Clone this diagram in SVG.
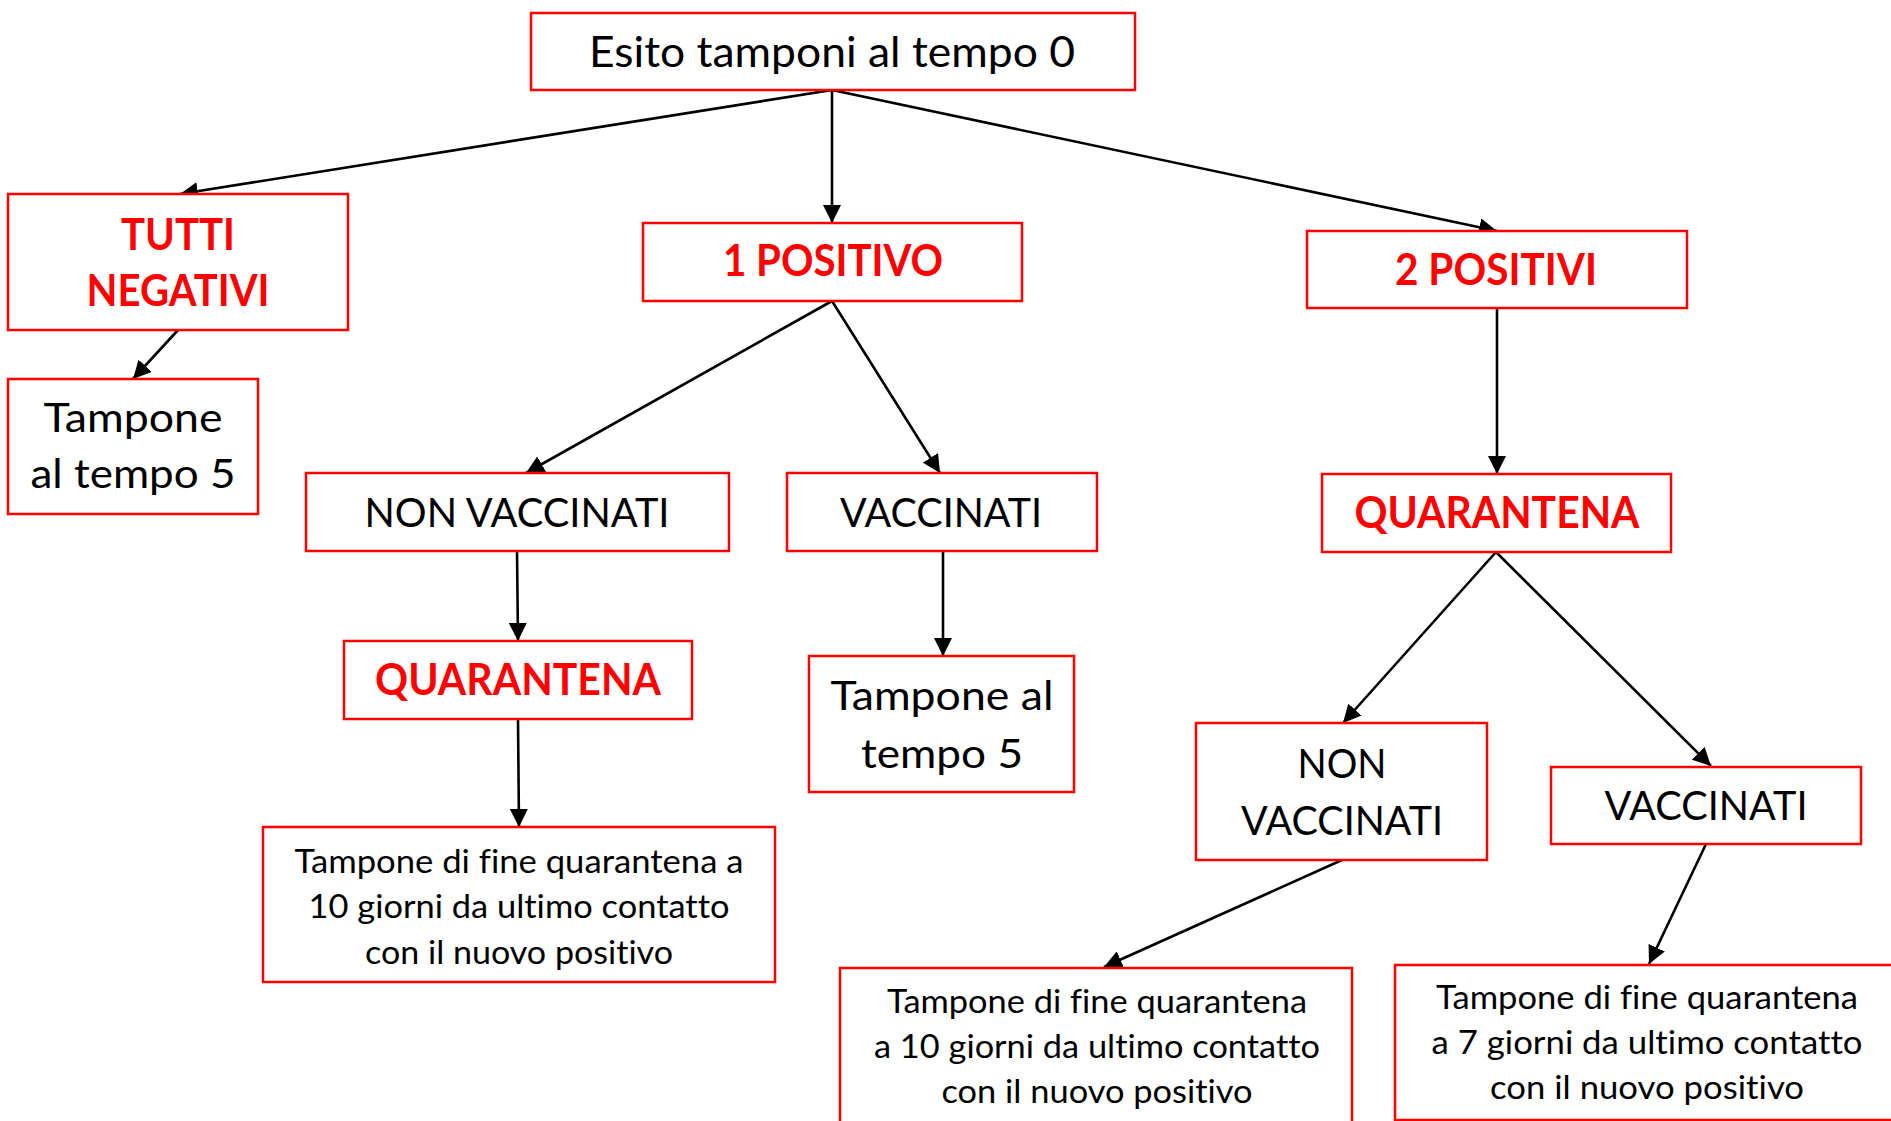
<svg xmlns="http://www.w3.org/2000/svg" width="1891" height="1121" viewBox="0 0 1891 1121">
<defs>
<marker id="ah" markerUnits="userSpaceOnUse" markerWidth="18" markerHeight="18" viewBox="0 0 16 16" refX="16" refY="8" orient="auto">
<path d="M0,0 L16,8 L0,16 Z" fill="#000"/>
</marker>
<style>
.box{fill:#fff;stroke:#ff0000;stroke-width:2.5}
.t{font-family:Lato,"Open Sans",sans-serif;fill:#000;text-anchor:middle;font-variant-ligatures:none}
.b{font-family:Lato,"Open Sans",sans-serif;font-weight:bold;fill:#ff0000;text-anchor:middle;font-variant-ligatures:none}
.c{fill:none;stroke:#000;stroke-width:2.6;marker-end:url(#ah)}
</style>
</defs>
<rect width="1891" height="1121" fill="#fff"/>
<g id="connectors">
<line class="c" x1="832" y1="90" x2="180" y2="194"/>
<line class="c" x1="832" y1="90" x2="832" y2="223"/>
<line class="c" x1="832" y1="90" x2="1497" y2="231"/>
<line class="c" x1="178" y1="330" x2="133" y2="379"/>
<line class="c" x1="832" y1="301" x2="526" y2="473"/>
<line class="c" x1="832" y1="301" x2="940" y2="473"/>
<line class="c" x1="517" y1="551" x2="518" y2="641"/>
<line class="c" x1="943" y1="551" x2="943" y2="656"/>
<line class="c" x1="1497" y1="308" x2="1497" y2="474"/>
<line class="c" x1="1496" y1="552" x2="1343" y2="723"/>
<line class="c" x1="1496" y1="552" x2="1711" y2="766"/>
<line class="c" x1="1342" y1="860" x2="1104" y2="967"/>
<line class="c" x1="1706" y1="844" x2="1649" y2="964"/>
<line class="c" x1="518" y1="719" x2="519" y2="827"/>
</g>
<g id="n-root">
<rect class="box" x="531" y="13" width="604" height="77"/>
<text class="t" x="832" y="67" font-size="43" textLength="486" lengthAdjust="spacingAndGlyphs">Esito tamponi al tempo 0</text>
</g>
<g id="n-negativi">
<rect class="box" x="8" y="194" width="340" height="136"/>
<text class="b" x="178" y="250" font-size="43" textLength="114" lengthAdjust="spacingAndGlyphs">TUTTI</text>
<text class="b" x="178" y="306" font-size="43" textLength="183" lengthAdjust="spacingAndGlyphs">NEGATIVI</text>
</g>
<g id="n-tampone5-left">
<rect class="box" x="8" y="379" width="250" height="135"/>
<text class="t" x="133" y="432" font-size="41" textLength="179" lengthAdjust="spacingAndGlyphs">Tampone</text>
<text class="t" x="133" y="488" font-size="41" textLength="205" lengthAdjust="spacingAndGlyphs">al tempo 5</text>
</g>
<g id="n-1positivo">
<rect class="box" x="643" y="223" width="379" height="78"/>
<text class="b" x="833" y="276" font-size="43" textLength="220" lengthAdjust="spacingAndGlyphs">1 POSITIVO</text>
</g>
<g id="n-2positivi">
<rect class="box" x="1307" y="231" width="380" height="77"/>
<text class="b" x="1496" y="285" font-size="43" textLength="202" lengthAdjust="spacingAndGlyphs">2 POSITIVI</text>
</g>
<g id="n-nonvacc-mid">
<rect class="box" x="306" y="473" width="423" height="78"/>
<text class="t" x="517" y="527" font-size="41" textLength="305" lengthAdjust="spacingAndGlyphs">NON VACCINATI</text>
</g>
<g id="n-vacc-mid">
<rect class="box" x="787" y="473" width="310" height="78"/>
<text class="t" x="941" y="527" font-size="41" textLength="202" lengthAdjust="spacingAndGlyphs">VACCINATI</text>
</g>
<g id="n-quarantena-left">
<rect class="box" x="344" y="641" width="348" height="78"/>
<text class="b" x="518" y="695" font-size="43" textLength="286" lengthAdjust="spacingAndGlyphs">QUARANTENA</text>
</g>
<g id="n-tampone5-mid">
<rect class="box" x="809" y="656" width="265" height="136"/>
<text class="t" x="942" y="710" font-size="41" textLength="223" lengthAdjust="spacingAndGlyphs">Tampone al</text>
<text class="t" x="942" y="768" font-size="41" textLength="162" lengthAdjust="spacingAndGlyphs">tempo 5</text>
</g>
<g id="n-fine10-left">
<rect class="box" x="263" y="827" width="512" height="155"/>
<text class="t" x="519" y="873" font-size="33" textLength="449" lengthAdjust="spacingAndGlyphs">Tampone di fine quarantena a</text>
<text class="t" x="519" y="918" font-size="33" textLength="421" lengthAdjust="spacingAndGlyphs">10 giorni da ultimo contatto</text>
<text class="t" x="519" y="964" font-size="33" textLength="308" lengthAdjust="spacingAndGlyphs">con il nuovo positivo</text>
</g>
<g id="n-quarantena-right">
<rect class="box" x="1322" y="474" width="349" height="78"/>
<text class="b" x="1497" y="528" font-size="43" textLength="285" lengthAdjust="spacingAndGlyphs">QUARANTENA</text>
</g>
<g id="n-nonvacc-right">
<rect class="box" x="1196" y="723" width="291" height="137"/>
<text class="t" x="1342" y="778" font-size="41" textLength="89" lengthAdjust="spacingAndGlyphs">NON</text>
<text class="t" x="1342" y="835" font-size="41" textLength="202" lengthAdjust="spacingAndGlyphs">VACCINATI</text>
</g>
<g id="n-vacc-right">
<rect class="box" x="1551" y="767" width="310" height="77"/>
<text class="t" x="1706" y="820" font-size="41" textLength="203" lengthAdjust="spacingAndGlyphs">VACCINATI</text>
</g>
<g id="n-fine10-bottom">
<rect class="box" x="840" y="968" width="512" height="170"/>
<text class="t" x="1097" y="1013" font-size="33" textLength="420" lengthAdjust="spacingAndGlyphs">Tampone di fine quarantena</text>
<text class="t" x="1097" y="1058" font-size="33" textLength="446" lengthAdjust="spacingAndGlyphs">a 10 giorni da ultimo contatto</text>
<text class="t" x="1097" y="1103" font-size="33" textLength="311" lengthAdjust="spacingAndGlyphs">con il nuovo positivo</text>
</g>
<g id="n-fine7-bottom">
<rect class="box" x="1395" y="965" width="504" height="155"/>
<text class="t" x="1647" y="1009" font-size="33" textLength="422" lengthAdjust="spacingAndGlyphs">Tampone di fine quarantena</text>
<text class="t" x="1647" y="1054" font-size="33" textLength="431" lengthAdjust="spacingAndGlyphs">a 7 giorni da ultimo contatto</text>
<text class="t" x="1647" y="1099" font-size="33" textLength="314" lengthAdjust="spacingAndGlyphs">con il nuovo positivo</text>
</g>
</svg>
